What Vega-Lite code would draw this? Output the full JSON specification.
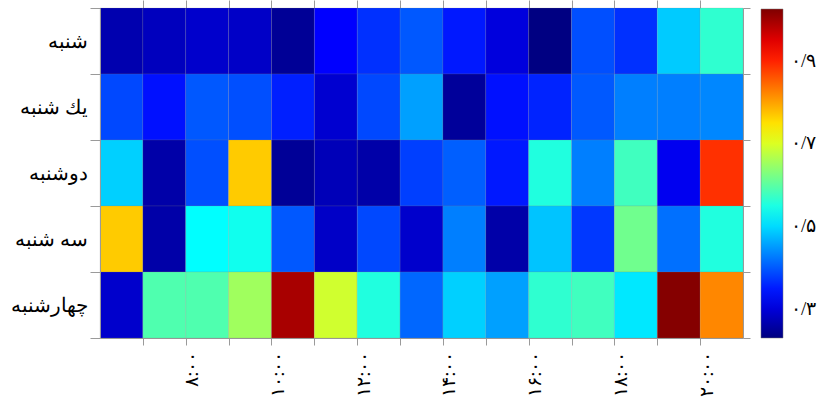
{
  "$schema": "https://vega.github.io/schema/vega-lite/v6.json",
  "width": 643,
  "height": 330,
  "autosize": {"type": "none"},
  "padding": {"left": 100, "top": 8, "right": 78, "bottom": 62},
  "background": "white",
  "config": {
    "view": {"stroke": null},
    "font": "Liberation Serif",
    "axis": {"labelFont": "Liberation Serif", "labelColor": "black", "domainColor": "#9a9a9a", "tickColor": "#9a9a9a", "grid": false, "title": null}
  },
  "data": {
    "values": [
      {"day": "شنبه", "h0": 6, "h1": 7, "v": 0.267},
      {"day": "شنبه", "h0": 7, "h1": 8, "v": 0.279},
      {"day": "شنبه", "h0": 8, "h1": 9, "v": 0.29},
      {"day": "شنبه", "h0": 9, "h1": 10, "v": 0.286},
      {"day": "شنبه", "h0": 10, "h1": 11, "v": 0.248},
      {"day": "شنبه", "h0": 11, "h1": 12, "v": 0.329},
      {"day": "شنبه", "h0": 12, "h1": 13, "v": 0.367},
      {"day": "شنبه", "h0": 13, "h1": 14, "v": 0.398},
      {"day": "شنبه", "h0": 14, "h1": 15, "v": 0.348},
      {"day": "شنبه", "h0": 15, "h1": 16, "v": 0.303},
      {"day": "شنبه", "h0": 16, "h1": 17, "v": 0.232},
      {"day": "شنبه", "h0": 17, "h1": 18, "v": 0.391},
      {"day": "شنبه", "h0": 18, "h1": 19, "v": 0.367},
      {"day": "شنبه", "h0": 19, "h1": 20, "v": 0.488},
      {"day": "شنبه", "h0": 20, "h1": 21, "v": 0.565},

      {"day": "یك شنبه", "h0": 6, "h1": 7, "v": 0.386},
      {"day": "یك شنبه", "h0": 7, "h1": 8, "v": 0.342},
      {"day": "یك شنبه", "h0": 8, "h1": 9, "v": 0.398},
      {"day": "یك شنبه", "h0": 9, "h1": 10, "v": 0.391},
      {"day": "یك شنبه", "h0": 10, "h1": 11, "v": 0.354},
      {"day": "یك شنبه", "h0": 11, "h1": 12, "v": 0.293},
      {"day": "یك شنبه", "h0": 12, "h1": 13, "v": 0.386},
      {"day": "یك شنبه", "h0": 13, "h1": 14, "v": 0.454},
      {"day": "یك شنبه", "h0": 14, "h1": 15, "v": 0.251},
      {"day": "یك شنبه", "h0": 15, "h1": 16, "v": 0.342},
      {"day": "یك شنبه", "h0": 16, "h1": 17, "v": 0.357},
      {"day": "یك شنبه", "h0": 17, "h1": 18, "v": 0.399},
      {"day": "یك شنبه", "h0": 18, "h1": 19, "v": 0.429},
      {"day": "یك شنبه", "h0": 19, "h1": 20, "v": 0.429},
      {"day": "یك شنبه", "h0": 20, "h1": 21, "v": 0.435},

      {"day": "دوشنبه", "h0": 6, "h1": 7, "v": 0.492},
      {"day": "دوشنبه", "h0": 7, "h1": 8, "v": 0.262},
      {"day": "دوشنبه", "h0": 8, "h1": 9, "v": 0.391},
      {"day": "دوشنبه", "h0": 9, "h1": 10, "v": 0.767},
      {"day": "دوشنبه", "h0": 10, "h1": 11, "v": 0.249},
      {"day": "دوشنبه", "h0": 11, "h1": 12, "v": 0.274},
      {"day": "دوشنبه", "h0": 12, "h1": 13, "v": 0.262},
      {"day": "دوشنبه", "h0": 13, "h1": 14, "v": 0.379},
      {"day": "دوشنبه", "h0": 14, "h1": 15, "v": 0.404},
      {"day": "دوشنبه", "h0": 15, "h1": 16, "v": 0.348},
      {"day": "دوشنبه", "h0": 16, "h1": 17, "v": 0.553},
      {"day": "دوشنبه", "h0": 17, "h1": 18, "v": 0.429},
      {"day": "دوشنبه", "h0": 18, "h1": 19, "v": 0.578},
      {"day": "دوشنبه", "h0": 19, "h1": 20, "v": 0.318},
      {"day": "دوشنبه", "h0": 20, "h1": 21, "v": 0.888},

      {"day": "سه شنبه", "h0": 6, "h1": 7, "v": 0.767},
      {"day": "سه شنبه", "h0": 7, "h1": 8, "v": 0.262},
      {"day": "سه شنبه", "h0": 8, "h1": 9, "v": 0.528},
      {"day": "سه شنبه", "h0": 9, "h1": 10, "v": 0.541},
      {"day": "سه شنبه", "h0": 10, "h1": 11, "v": 0.398},
      {"day": "سه شنبه", "h0": 11, "h1": 12, "v": 0.286},
      {"day": "سه شنبه", "h0": 12, "h1": 13, "v": 0.386},
      {"day": "سه شنبه", "h0": 13, "h1": 14, "v": 0.29},
      {"day": "سه شنبه", "h0": 14, "h1": 15, "v": 0.429},
      {"day": "سه شنبه", "h0": 15, "h1": 16, "v": 0.262},
      {"day": "سه شنبه", "h0": 16, "h1": 17, "v": 0.482},
      {"day": "سه شنبه", "h0": 17, "h1": 18, "v": 0.373},
      {"day": "سه شنبه", "h0": 18, "h1": 19, "v": 0.616},
      {"day": "سه شنبه", "h0": 19, "h1": 20, "v": 0.417},
      {"day": "سه شنبه", "h0": 20, "h1": 21, "v": 0.553},

      {"day": "چهارشنبه", "h0": 6, "h1": 7, "v": 0.29},
      {"day": "چهارشنبه", "h0": 7, "h1": 8, "v": 0.59},
      {"day": "چهارشنبه", "h0": 8, "h1": 9, "v": 0.59},
      {"day": "چهارشنبه", "h0": 9, "h1": 10, "v": 0.653},
      {"day": "چهارشنبه", "h0": 10, "h1": 11, "v": 0.993},
      {"day": "چهارشنبه", "h0": 11, "h1": 12, "v": 0.69},
      {"day": "چهارشنبه", "h0": 12, "h1": 13, "v": 0.553},
      {"day": "چهارشنبه", "h0": 13, "h1": 14, "v": 0.41},
      {"day": "چهارشنبه", "h0": 14, "h1": 15, "v": 0.492},
      {"day": "چهارشنبه", "h0": 15, "h1": 16, "v": 0.454},
      {"day": "چهارشنبه", "h0": 16, "h1": 17, "v": 0.565},
      {"day": "چهارشنبه", "h0": 17, "h1": 18, "v": 0.578},
      {"day": "چهارشنبه", "h0": 18, "h1": 19, "v": 0.51},
      {"day": "چهارشنبه", "h0": 19, "h1": 20, "v": 1.02},
      {"day": "چهارشنبه", "h0": 20, "h1": 21, "v": 0.82}
    ]
  },
  "layer": [
    {
      "mark": {"type": "rect", "stroke": "#808080", "strokeWidth": 0.5, "strokeOpacity": 0.35},
      "encoding": {
        "x": {
          "field": "h0", "type": "quantitative",
          "scale": {"domain": [6, 21], "nice": false, "zero": false},
          "axis": {
            "orient": "bottom",
            "values": [7, 8, 9, 10, 11, 12, 13, 14, 15, 16, 17, 18, 19, 20],
            "labelExpr": "datum.value == 8 ? '۸:۰۰' : datum.value == 10 ? '۱۰:۰۰' : datum.value == 12 ? '۱۲:۰۰' : datum.value == 14 ? '۱۴:۰۰' : datum.value == 16 ? '۱۶:۰۰' : datum.value == 18 ? '۱۸:۰۰' : datum.value == 20 ? '۲۰:۰۰' : ''",
            "labelAngle": 270,
            "labelAlign": "right",
            "labelBaseline": "middle",
            "labelOffset": 6,
            "labelFontSize": 19,
            "labelPadding": 6,
            "tickSize": 7,
            "labelOverlap": false,
            "labelBound": false,
            "labelFlush": false
          }
        },
        "x2": {"field": "h1"},
        "y": {
          "field": "day", "type": "nominal",
          "sort": ["شنبه", "یك شنبه", "دوشنبه", "سه شنبه", "چهارشنبه"],
          "scale": {"paddingInner": 0, "paddingOuter": 0},
          "axis": {
            "orient": "left",
            "tickBand": "extent",
            "tickSize": 10,
            "labelPadding": 3,
            "labelFontSize": 20
          }
        },
        "color": {
          "field": "v", "type": "quantitative",
          "scale": {
            "type": "linear",
            "domain": [0.23, 0.329375, 0.42875, 0.528125, 0.6275, 0.726875, 0.82625, 0.925625, 1.025],
            "range": ["#00007f", "#0000ff", "#007fff", "#00ffff", "#7fff7f", "#ffff00", "#ff7f00", "#ff0000", "#7f0000"],
            "interpolate": "rgb",
            "nice": false,
            "zero": false
          },
          "legend": {
            "title": null,
            "orient": "none",
            "legendX": 661,
            "legendY": 1,
            "direction": "vertical",
            "gradientLength": 329,
            "gradientThickness": 22,
            "gradientStrokeColor": "#777",
            "gradientStrokeWidth": 0.5,
            "values": [0.3, 0.5, 0.7, 0.9],
            "labelExpr": "abs(datum.value - 0.3) < 0.01 ? '۰/۳' : abs(datum.value - 0.5) < 0.01 ? '۰/۵' : abs(datum.value - 0.7) < 0.01 ? '۰/۷' : '۰/۹'",
            "labelFont": "Liberation Serif",
            "labelFontSize": 19,
            "labelColor": "black",
            "labelOffset": 8,
            "labelOverlap": false
          }
        }
      }
    },
    {
      "mark": {"type": "rect", "opacity": 0},
      "encoding": {
        "x": {
          "field": "h0", "type": "quantitative",
          "axis": {
            "orient": "top",
            "values": [7, 8, 9, 10, 11, 12, 13, 14, 15, 16, 17, 18, 19, 20],
            "labels": false,
            "tickSize": 8
          }
        },
        "x2": {"field": "h1"},
        "y": {
          "field": "day", "type": "nominal",
          "sort": ["شنبه", "یك شنبه", "دوشنبه", "سه شنبه", "چهارشنبه"],
          "axis": {"orient": "right", "labels": false, "tickBand": "extent", "tickSize": 7}
        }
      }
    }
  ],
  "resolve": {"axis": {"x": "independent", "y": "independent"}}
}
